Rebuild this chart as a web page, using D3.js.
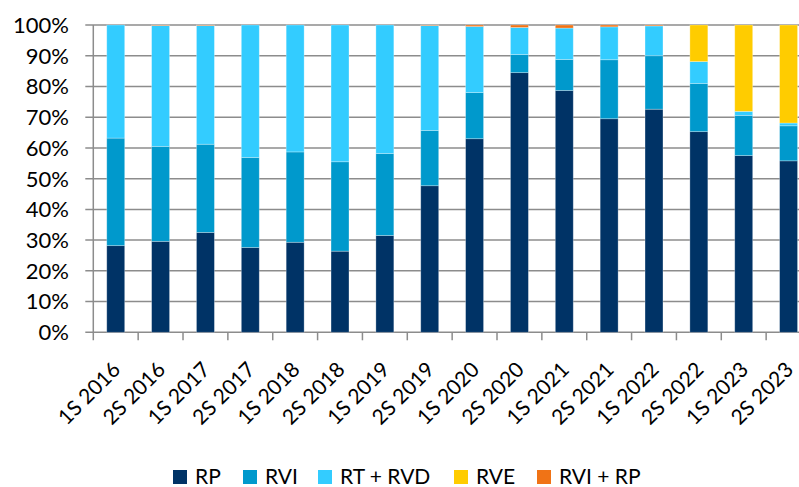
<!DOCTYPE html>
<html><head><meta charset="utf-8">
<script src="https://cdn.jsdelivr.net/npm/d3@7"></script>
<style>
html,body{margin:0;padding:0;background:#fff;overflow:hidden;}
svg text{font-family:Lato,"Liberation Sans",sans-serif;fill:#000;}
</style></head>
<body>
<svg id="chart" width="799" height="487"></svg>
<script>
const categories = ["1S 2016","2S 2016","1S 2017","2S 2017","1S 2018","2S 2018","1S 2019","2S 2019","1S 2020","2S 2020","1S 2021","2S 2021","1S 2022","2S 2022","1S 2023","2S 2023"];
const seriesNames = ["RP","RVI","RT + RVD","RVE","RVI + RP"];
const RP    = [28.2,29.6,32.5,27.6,29.3,26.4,31.5,47.7,63.0,84.5,78.7,69.5,72.6,65.3,57.5,55.8];
const RVI   = [35.0,30.9,28.7,29.3,29.4,29.1,26.7,18.0,15.0,5.9,10.1,19.2,17.4,15.7,13.1,11.4];
const RTRVD = [36.8,39.3,38.6,43.1,41.3,44.5,41.8,34.1,21.5,8.8,10.2,10.7,9.7,7.1,1.3,0.9];
const RVE   = [0,0,0,0,0,0,0,0,0,0,0,0,0,11.9,28.1,31.9];
const RVIRP = [0,0.2,0.2,0,0,0,0,0.2,0.5,0.8,1.0,0.6,0.3,0,0,0];
const yTicks = [0,10,20,30,40,50,60,70,80,90,100];
const colors = ["#003366","#0099CC","#33CCFF","#FFCC00","#F07316"];

const seriesValues = [RP,RVI,RTRVD,RVE,RVIRP];
const table = categories.map((c,i)=>{
  const o={cat:c};
  seriesNames.forEach((s,j)=>o[s]=seriesValues[j][i]);
  return o;
});

const svg = d3.select("#chart");
const pL = 93.3, pR = 811, pT = 25, pB = 332.3;
const x = d3.scaleBand().domain(categories).range([pL,pR]).paddingInner(0.6).paddingOuter(0.3);
const xb = d3.scaleBand().domain(categories).range([pL,pR]);
const y = d3.scaleLinear().domain([0,100]).range([pB,pT]);

// gridlines
svg.append("g").selectAll("line").data(yTicks).join("line")
  .attr("x1",pL-8).attr("x2",pR).attr("y1",d=>y(d)).attr("y2",d=>y(d))
  .attr("stroke","#8c8c8c").attr("stroke-width",1.5);
// y axis line
svg.append("line").attr("x1",pL).attr("x2",pL).attr("y1",pT).attr("y2",pB+8)
  .attr("stroke","#8c8c8c").attr("stroke-width",1.5);
// x ticks
svg.append("g").selectAll("line").data(categories.slice(1)).join("line")
  .attr("x1",d=>xb(d)).attr("x2",d=>xb(d)).attr("y1",pB).attr("y2",pB+8)
  .attr("stroke","#8c8c8c").attr("stroke-width",1.5);

// stacked bars
const stack = d3.stack().keys(seriesNames)(table);
svg.append("g").selectAll("g").data(stack).join("g")
  .attr("fill",(d,i)=>colors[i])
  .selectAll("rect").data(d=>d).join("rect")
  .attr("x",d=>x(d.data.cat)).attr("width",x.bandwidth())
  .attr("y",d=>y(d[1])).attr("height",d=>Math.max(0,y(d[0])-y(d[1])))
  .attr("stroke","rgba(255,255,255,0.35)").attr("stroke-width",0.8);

// y labels
svg.append("g").selectAll("text").data(yTicks).join("text")
  .attr("x",69).attr("y",d=>y(d)).attr("dy","0.36em")
  .attr("text-anchor","end").style("font-size","22px")
  .text(d=>d+"%");

// x labels
svg.append("g").selectAll("text").data(categories).join("text")
  .attr("transform",d=>`translate(${x(d)+x.bandwidth()/2+6},${371}) rotate(-45)`)
  .attr("text-anchor","end").style("font-size","21px")
  .text(d=>d);

// legend
const legX = [173,243,318,454,537];
const lg = svg.append("g").selectAll("g").data(seriesNames).join("g")
  .attr("transform",(d,i)=>`translate(${legX[i]},469)`);
lg.append("rect").attr("width",14).attr("height",14).attr("y",1).attr("fill",(d,i)=>colors[i]);
lg.append("text").attr("x",22).attr("y",15).style("font-size","21px").text(d=>d);
</script>
</body></html>
